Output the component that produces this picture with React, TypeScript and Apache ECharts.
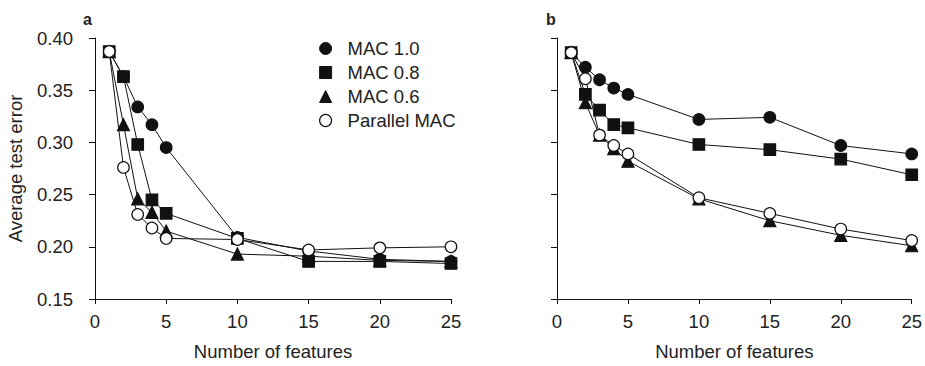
import React, { useEffect, useRef } from "react";
import * as echarts from "echarts";

const features = [1, 2, 3, 4, 5, 10, 15, 20, 25];
const seriesNames = ["MAC 1.0", "MAC 0.8", "MAC 0.6", "Parallel MAC"];
const yTicks = [0.15, 0.2, 0.25, 0.3, 0.35, 0.4];
const xTicks = [0, 5, 10, 15, 20, 25];

// Panel a
const aMac10 = [0.387, 0.363, 0.334, 0.317, 0.295, 0.209, 0.196, 0.188, 0.186];
const aMac08 = [0.387, 0.363, 0.298, 0.245, 0.232, 0.208, 0.186, 0.186, 0.184];
const aMac06 = [0.387, 0.317, 0.246, 0.233, 0.215, 0.193, 0.191, 0.187, 0.186];
const aPar = [0.387, 0.276, 0.231, 0.218, 0.208, 0.207, 0.197, 0.199, 0.2];

// Panel b
const bMac10 = [0.386, 0.372, 0.36, 0.352, 0.346, 0.322, 0.324, 0.297, 0.289];
const bMac08 = [0.386, 0.346, 0.331, 0.317, 0.314, 0.298, 0.293, 0.284, 0.269];
const bMac06 = [0.386, 0.338, 0.307, 0.294, 0.282, 0.246, 0.225, 0.211, 0.201];
const bPar = [0.386, 0.361, 0.307, 0.297, 0.289, 0.247, 0.232, 0.217, 0.206];

const FONT = "Liberation Sans";
const FS = 18.5;
const TXT = "#222";
const INK = "#111";

const symbols = ["circle", "rect", "triangle", "circle"];

function makeSeries(name: string, values: number[], idx: number, gridIdx: number) {
  const open = name === "Parallel MAC";
  return {
    name,
    type: "line",
    xAxisIndex: gridIdx,
    yAxisIndex: gridIdx,
    data: features.map((f, i) => [f, values[i]]),
    symbol: symbols[idx],
    symbolSize: idx === 2 ? 12 : 11.5,
    lineStyle: { color: INK, width: 1 },
    itemStyle: {
      color: open ? "#fff" : INK,
      borderColor: INK,
      borderWidth: 1.2,
    },
    z: 2 + idx,
    emphasis: { disabled: true },
  };
}

export default function App() {
  const ref = useRef<HTMLDivElement>(null);
  useEffect(() => {
    if (!ref.current) return;
    const chart = echarts.init(ref.current, undefined, { renderer: "svg" });
    const xAxisBase = (gi: number) => ({
      type: "value",
      gridIndex: gi,
      min: xTicks[0],
      max: xTicks[xTicks.length - 1],
      interval: 5,
      name: "Number of features",
      nameLocation: "middle",
      nameGap: 43,
      nameTextStyle: { fontFamily: FONT, fontSize: FS, color: TXT },
      axisLine: { show: true, lineStyle: { color: INK, width: 1 } },
      axisTick: { show: true, length: 5, lineStyle: { color: INK } },
      axisLabel: { fontFamily: FONT, fontSize: FS, color: TXT, margin: 13 },
      splitLine: { show: false },
    });
    const yAxisBase = (gi: number, showLabels: boolean) => ({
      type: "value",
      gridIndex: gi,
      min: yTicks[0],
      max: yTicks[yTicks.length - 1],
      interval: 0.05,
      offset: 6,
      name: showLabels ? "Average test error" : "",
      nameLocation: "middle",
      nameGap: 64,
      nameTextStyle: { fontFamily: FONT, fontSize: FS, color: TXT },
      axisLine: { show: true, lineStyle: { color: INK, width: 1 } },
      axisTick: { show: true, length: 6, lineStyle: { color: INK } },
      axisLabel: {
        show: showLabels,
        fontFamily: FONT,
        fontSize: FS,
        color: TXT,
        margin: 16,
        formatter: (v: number) => v.toFixed(2),
      },
      splitLine: { show: false },
    });
    const series: any[] = [];
    [aMac10, aMac08, aMac06, aPar].forEach((vals, i) =>
      series.push(makeSeries(seriesNames[i], vals, i, 0))
    );
    [bMac10, bMac08, bMac06, bPar].forEach((vals, i) =>
      series.push(makeSeries(seriesNames[i], vals, i, 1))
    );
    chart.setOption({
      animation: false,
      backgroundColor: "#fff",
      title: [
        {
          text: "a",
          left: 83,
          top: 11,
          padding: 0,
          textStyle: { fontFamily: FONT, fontSize: 16, fontWeight: "bold", color: TXT },
        },
        {
          text: "b",
          left: 546,
          top: 11,
          padding: 0,
          textStyle: { fontFamily: FONT, fontSize: 16, fontWeight: "bold", color: TXT },
        },
      ],
      legend: {
        orient: "vertical",
        left: 319,
        top: 39,
        itemWidth: 12,
        itemHeight: 12,
        itemGap: 5,
        padding: 0,
        selectedMode: false,
        data: seriesNames.map((n, i) => ({
          name: n,
          icon: symbols[i],
          itemStyle:
            n === "Parallel MAC"
              ? { color: "#fff", borderColor: INK, borderWidth: 1.2 }
              : { color: INK, borderColor: INK, borderWidth: 1 },
        })),
        textStyle: {
          fontFamily: FONT,
          fontSize: FS,
          color: TXT,
          padding: [0, 0, 0, 11],
        },
      },
      grid: [
        { left: 95, top: 38, width: 356, height: 270 },
        { left: 557, top: 38, width: 356, height: 270 },
      ],
      xAxis: [xAxisBase(0), xAxisBase(1)],
      yAxis: [yAxisBase(0, true), yAxisBase(1, false)],
      series,
    });
    return () => chart.dispose();
  }, []);
  return (
    <div
      ref={ref}
      style={{ position: "fixed", left: 0, top: 0, width: 925, height: 366, background: "#fff" }}
    />
  );
}
